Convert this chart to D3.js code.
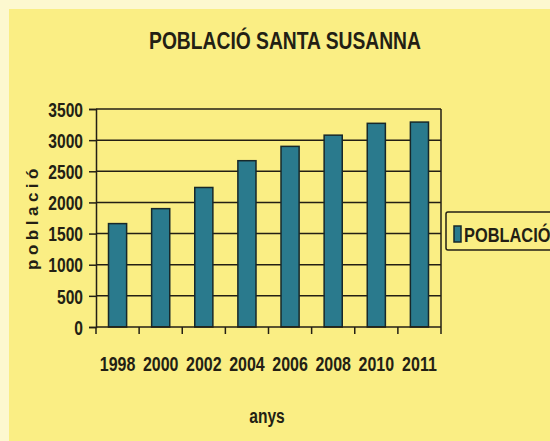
<!DOCTYPE html>
<html><head><meta charset="utf-8">
<script src="https://cdn.jsdelivr.net/npm/d3@7"></script>
<style>html,body{margin:0;padding:0;background:#fdf8cf;}svg{display:block;}</style>
</head><body>
<svg id="c" width="550" height="441"></svg>
<script>
const categories = ["1998","2000","2002","2004","2006","2008","2010","2011"];
const values = [1660, 1900, 2240, 2670, 2900, 3080, 3270, 3290];
const yTicks = [0,500,1000,1500,2000,2500,3000,3500];
const seriesName = "POBLACIÓ";
const title = "POBLACIÓ SANTA SUSANNA";
const xTitle = "anys";
const yTitle = "població";

const svg = d3.select("#c");
const sans = "'Liberation Sans',Arial,sans-serif";
const ink = "#231f14";
function condense(sel, f){
  sel.each(function(){
    const L = this.getComputedTextLength();
    d3.select(this).attr("textLength", L*f).attr("lengthAdjust","spacingAndGlyphs");
  });
}
svg.append("rect").attr("x",9).attr("y",9).attr("width",541).attr("height",432).attr("fill","#faee84");

const m = {l:96, r:441, t:109, b:327};
const x = d3.scaleBand().domain(categories).range([m.l, m.r]).paddingInner(0.58).paddingOuter(0.29);
const y = d3.scaleLinear().domain([0,3500]).range([m.b, m.t]);

svg.append("g").selectAll("line").data(yTicks.filter(d=>d>0)).join("line")
  .attr("x1",m.l).attr("x2",m.r).attr("y1",d=>y(d)).attr("y2",d=>y(d))
  .attr("stroke",ink).attr("stroke-width",1.5);
svg.append("line").attr("x1",m.r).attr("x2",m.r).attr("y1",m.t).attr("y2",m.b)
  .attr("stroke",ink).attr("stroke-width",1.5);

svg.append("g").selectAll("rect").data(values).join("rect")
  .attr("x",(d,i)=>x(categories[i])).attr("width",x.bandwidth())
  .attr("y",d=>y(d)).attr("height",d=>m.b-y(d))
  .attr("fill","#2a7a8d").attr("stroke","#17282a").attr("stroke-width",1.5);

const ya = svg.append("g").attr("transform",`translate(${m.l},0)`)
  .call(d3.axisLeft(y).tickValues(yTicks).tickSize(7).tickPadding(6).tickFormat(d3.format("d")));
ya.select(".domain").attr("stroke",ink).attr("stroke-width",1.5);
ya.selectAll(".tick line").attr("stroke",ink).attr("stroke-width",1.5);
ya.selectAll("text").attr("font-family",sans).attr("font-weight","bold").attr("font-size",20).attr("fill",ink)
  .attr("dy","0.36em");
condense(ya.selectAll("text"), 0.78);

const xa = svg.append("g").attr("transform",`translate(0,${m.b})`);
xa.append("line").attr("x1",m.l).attr("x2",m.r).attr("stroke",ink).attr("stroke-width",1.5);
const step = x.step();
const bounds = categories.map((c,i)=>m.l + i*step).concat([m.r]);
xa.selectAll("line.t").data(bounds).join("line").attr("class","t")
  .attr("x1",d=>d).attr("x2",d=>d).attr("y1",0).attr("y2",7)
  .attr("stroke",ink).attr("stroke-width",1.5);
const xl = xa.selectAll("text").data(categories).join("text")
  .attr("x",d=>x(d)+x.bandwidth()/2).attr("y",44)
  .attr("text-anchor","middle").attr("font-family",sans).attr("font-weight","bold")
  .attr("font-size",20).attr("fill",ink).text(d=>d);
condense(xl, 0.8);

const tt = svg.append("text").attr("x",285).attr("y",49).attr("text-anchor","middle")
  .attr("font-family",sans).attr("font-weight","bold").attr("font-size",23.5).attr("fill",ink).text(title);
condense(tt, 0.82);
const xt = svg.append("text").attr("x",267).attr("y",423).attr("text-anchor","middle")
  .attr("font-family",sans).attr("font-weight","bold").attr("font-size",20).attr("fill",ink).text(xTitle);
condense(xt, 0.78);
svg.append("text").attr("transform","translate(38,217) rotate(-90)").attr("text-anchor","middle")
  .attr("font-family",sans).attr("font-weight","bold").attr("font-size",17)
  .attr("letter-spacing",4.5).attr("fill",ink).text(yTitle);

const lg = svg.append("g");
lg.append("rect").attr("x",446).attr("y",212).attr("width",120).attr("height",38).attr("rx",2)
  .attr("fill","#faee84").attr("stroke",ink).attr("stroke-width",1.5);
lg.append("rect").attr("x",454).attr("y",226).attr("width",7).attr("height",16)
  .attr("fill","#2a7a8d").attr("stroke","#17282a").attr("stroke-width",1.5);
lg.append("text").attr("transform","translate(464,242) scale(0.78,1)")
  .attr("font-family",sans).attr("font-weight","bold")
  .attr("font-size",21).attr("fill",ink).text(seriesName);
</script>
</body></html>
